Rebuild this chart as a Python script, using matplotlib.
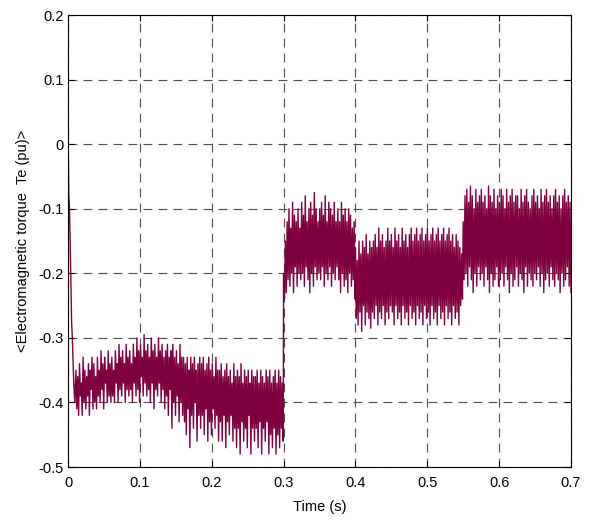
import numpy as np
import matplotlib
matplotlib.use("Agg")
import matplotlib.pyplot as plt

plt.rcParams['font.family'] = ['Liberation Sans', 'DejaVu Sans']

# start-up transient (time, torque)
t_transient = [0.0, 0.0005, 0.001, 0.002, 0.003, 0.004, 0.005, 0.006, 0.007, 0.008, 0.0095]
te_transient = [0.0, -0.02, -0.076, -0.10, -0.15, -0.21, -0.275, -0.30, -0.335, -0.37, -0.40]

# noisy stretches, samples (alternating peaks / troughs)
te_seg1 = [  # 0.011 .. 0.2995 s
    -0.35, -0.41, -0.36, -0.42, -0.34, -0.39, -0.37, -0.42, -0.33, -0.40, -0.35, -0.41, -0.36, -0.39, -0.34, -0.42, -0.35, -0.38, -0.33, -0.41,
    -0.34, -0.40, -0.36, -0.41, -0.33, -0.39, -0.35, -0.40, -0.32, -0.38, -0.34, -0.41, -0.33, -0.37, -0.35, -0.40, -0.32, -0.39, -0.34, -0.40,
    -0.33, -0.39, -0.35, -0.40, -0.32, -0.37, -0.34, -0.40, -0.31, -0.38, -0.33, -0.39, -0.32, -0.37, -0.34, -0.40, -0.31, -0.38, -0.33, -0.39,
    -0.32, -0.38, -0.34, -0.40, -0.31, -0.37, -0.33, -0.39, -0.30, -0.38, -0.32, -0.40, -0.31, -0.36, -0.33, -0.39, -0.295, -0.37, -0.32, -0.39,
    -0.31, -0.38, -0.33, -0.40, -0.30, -0.37, -0.32, -0.41, -0.31, -0.38, -0.33, -0.39, -0.30, -0.37, -0.32, -0.40, -0.31, -0.38, -0.33, -0.41,
    -0.32, -0.39, -0.31, -0.42, -0.33, -0.38, -0.32, -0.44, -0.31, -0.40, -0.33, -0.42, -0.32, -0.39, -0.34, -0.43, -0.31, -0.40, -0.33, -0.42,
    -0.33, -0.43, -0.34, -0.45, -0.33, -0.41, -0.35, -0.47, -0.33, -0.42, -0.34, -0.44, -0.33, -0.40, -0.35, -0.46, -0.34, -0.42, -0.33, -0.44,
    -0.34, -0.42, -0.33, -0.45, -0.35, -0.41, -0.34, -0.46, -0.33, -0.43, -0.35, -0.45, -0.34, -0.41, -0.36, -0.44, -0.33, -0.42, -0.35, -0.46,
    -0.35, -0.43, -0.34, -0.46, -0.36, -0.42, -0.35, -0.47, -0.34, -0.43, -0.36, -0.45, -0.35, -0.42, -0.37, -0.46, -0.34, -0.44, -0.36, -0.47,
    -0.35, -0.44, -0.36, -0.48, -0.34, -0.43, -0.37, -0.46, -0.35, -0.44, -0.36, -0.47, -0.35, -0.42, -0.37, -0.48, -0.35, -0.44, -0.36, -0.46,
    -0.36, -0.44, -0.35, -0.47, -0.37, -0.43, -0.35, -0.48, -0.36, -0.44, -0.37, -0.46, -0.35, -0.43, -0.36, -0.48, -0.35, -0.45, -0.37, -0.47,
    -0.36, -0.44, -0.35, -0.48, -0.37, -0.45, -0.35, -0.47, -0.36, -0.44, -0.37, -0.46,
]
te_seg2 = [  # 0.300 .. 0.3995 s
    -0.20, -0.24, -0.15, -0.23, -0.12, -0.21, -0.10, -0.22, -0.13, -0.20, -0.09, -0.23, -0.11, -0.19, -0.12, -0.22, -0.10, -0.20, -0.13, -0.21,
    -0.09, -0.20, -0.11, -0.22, -0.08, -0.19, -0.12, -0.21, -0.10, -0.23, -0.09, -0.20, -0.11, -0.22, -0.075, -0.19, -0.10, -0.21, -0.12, -0.20,
    -0.10, -0.21, -0.09, -0.19, -0.11, -0.22, -0.08, -0.20, -0.12, -0.21, -0.09, -0.19, -0.10, -0.22, -0.11, -0.20, -0.09, -0.21, -0.12, -0.19,
    -0.10, -0.21, -0.12, -0.23, -0.09, -0.20, -0.11, -0.22, -0.10, -0.21, -0.12, -0.23, -0.10, -0.20, -0.11, -0.22, -0.13, -0.21, -0.12, -0.24,
]
te_seg3 = [  # 0.400 .. 0.549 s
    -0.16, -0.27, -0.18, -0.28, -0.15, -0.26, -0.17, -0.29, -0.15, -0.25, -0.16, -0.28, -0.14, -0.26, -0.17, -0.27, -0.15, -0.285, -0.16, -0.26,
    -0.15, -0.27, -0.14, -0.25, -0.16, -0.28, -0.13, -0.26, -0.15, -0.27, -0.14, -0.25, -0.16, -0.28, -0.15, -0.26, -0.13, -0.27, -0.15, -0.25,
    -0.14, -0.26, -0.16, -0.28, -0.13, -0.25, -0.15, -0.27, -0.14, -0.26, -0.16, -0.28, -0.13, -0.25, -0.15, -0.27, -0.14, -0.26, -0.16, -0.28,
    -0.14, -0.25, -0.13, -0.27, -0.15, -0.26, -0.14, -0.28, -0.13, -0.25, -0.15, -0.27, -0.14, -0.26, -0.13, -0.28, -0.15, -0.25, -0.14, -0.27,
    -0.13, -0.26, -0.15, -0.28, -0.14, -0.25, -0.13, -0.27, -0.15, -0.26, -0.14, -0.28, -0.13, -0.25, -0.15, -0.27, -0.14, -0.26, -0.13, -0.28,
    -0.15, -0.25, -0.14, -0.27, -0.13, -0.26, -0.15, -0.28, -0.14, -0.25, -0.16, -0.27, -0.14, -0.26, -0.15, -0.28, -0.16, -0.25, -0.17, -0.24,
]
te_seg4 = [  # 0.550 .. 0.700 s
    -0.12, -0.21, -0.08, -0.20, -0.07, -0.22, -0.09, -0.19, -0.065, -0.21, -0.08, -0.23, -0.10, -0.20, -0.07, -0.22, -0.09, -0.19, -0.08, -0.21,
    -0.07, -0.20, -0.09, -0.22, -0.08, -0.19, -0.10, -0.21, -0.065, -0.23, -0.08, -0.20, -0.09, -0.22, -0.07, -0.21, -0.10, -0.19, -0.08, -0.22,
    -0.09, -0.21, -0.07, -0.20, -0.08, -0.22, -0.10, -0.19, -0.07, -0.21, -0.09, -0.23, -0.08, -0.20, -0.07, -0.22, -0.09, -0.21, -0.08, -0.19,
    -0.08, -0.22, -0.10, -0.20, -0.07, -0.21, -0.09, -0.23, -0.08, -0.19, -0.07, -0.22, -0.09, -0.20, -0.10, -0.21, -0.08, -0.22, -0.07, -0.20,
    -0.09, -0.21, -0.08, -0.19, -0.10, -0.22, -0.07, -0.20, -0.09, -0.23, -0.08, -0.21, -0.07, -0.20, -0.09, -0.22, -0.08, -0.19, -0.10, -0.21,
    -0.08, -0.22, -0.07, -0.20, -0.09, -0.21, -0.08, -0.23, -0.10, -0.20, -0.08, -0.22, -0.07, -0.21, -0.09, -0.19, -0.08, -0.22, -0.09, -0.23,
]
seg_spans = [(0.011, 0.2995), (0.300, 0.3995), (0.400, 0.549), (0.550, 0.700)]

x_ticks = [0, 0.1, 0.2, 0.3, 0.4, 0.5, 0.6, 0.7]
x_labels = ['0', '0.1', '0.2', '0.3', '0.4', '0.5', '0.6', '0.7']
y_ticks = [-0.5, -0.4, -0.3, -0.2, -0.1, 0, 0.1, 0.2]
y_labels = ['-0.5', '-0.4', '-0.3', '-0.2', '-0.1', '0', '0.1', '0.2']

t = list(t_transient)
te = list(te_transient)
for (a, b), vals in zip(seg_spans, [te_seg1, te_seg2, te_seg3, te_seg4]):
    t.extend(np.linspace(a, b, len(vals)))
    te.extend(vals)

fig = plt.figure(figsize=(5.96, 5.21), dpi=100)
ax = fig.add_axes([0.1141, 0.1036, 0.8439, 0.8676])

ax.plot(t, te, color='#80003f', linewidth=1.0)

ax.set_xlim(0, 0.7)
ax.set_ylim(-0.5, 0.2)
ax.set_xticks(x_ticks)
ax.set_xticklabels(x_labels)
ax.set_yticks(y_ticks)
ax.set_yticklabels(y_labels)
ax.tick_params(direction='in', top=True, right=True, labelsize=10.5, length=4, width=0.8)
ax.tick_params(axis='x', pad=6.5)
ax.tick_params(axis='y', pad=3)
ax.grid(True, color='#4d4d4d', linestyle=(0, (8, 5.5)), linewidth=0.8)
for s in ax.spines.values():
    s.set_linewidth(0.8)

ax.set_xlabel('Time (s)', fontsize=10.5, labelpad=7)
ax.set_ylabel('<Electromagnetic torque  Te (pu)>', fontsize=10.5, labelpad=6)

fig.savefig('out.png', dpi=100)
plt.close('all')
